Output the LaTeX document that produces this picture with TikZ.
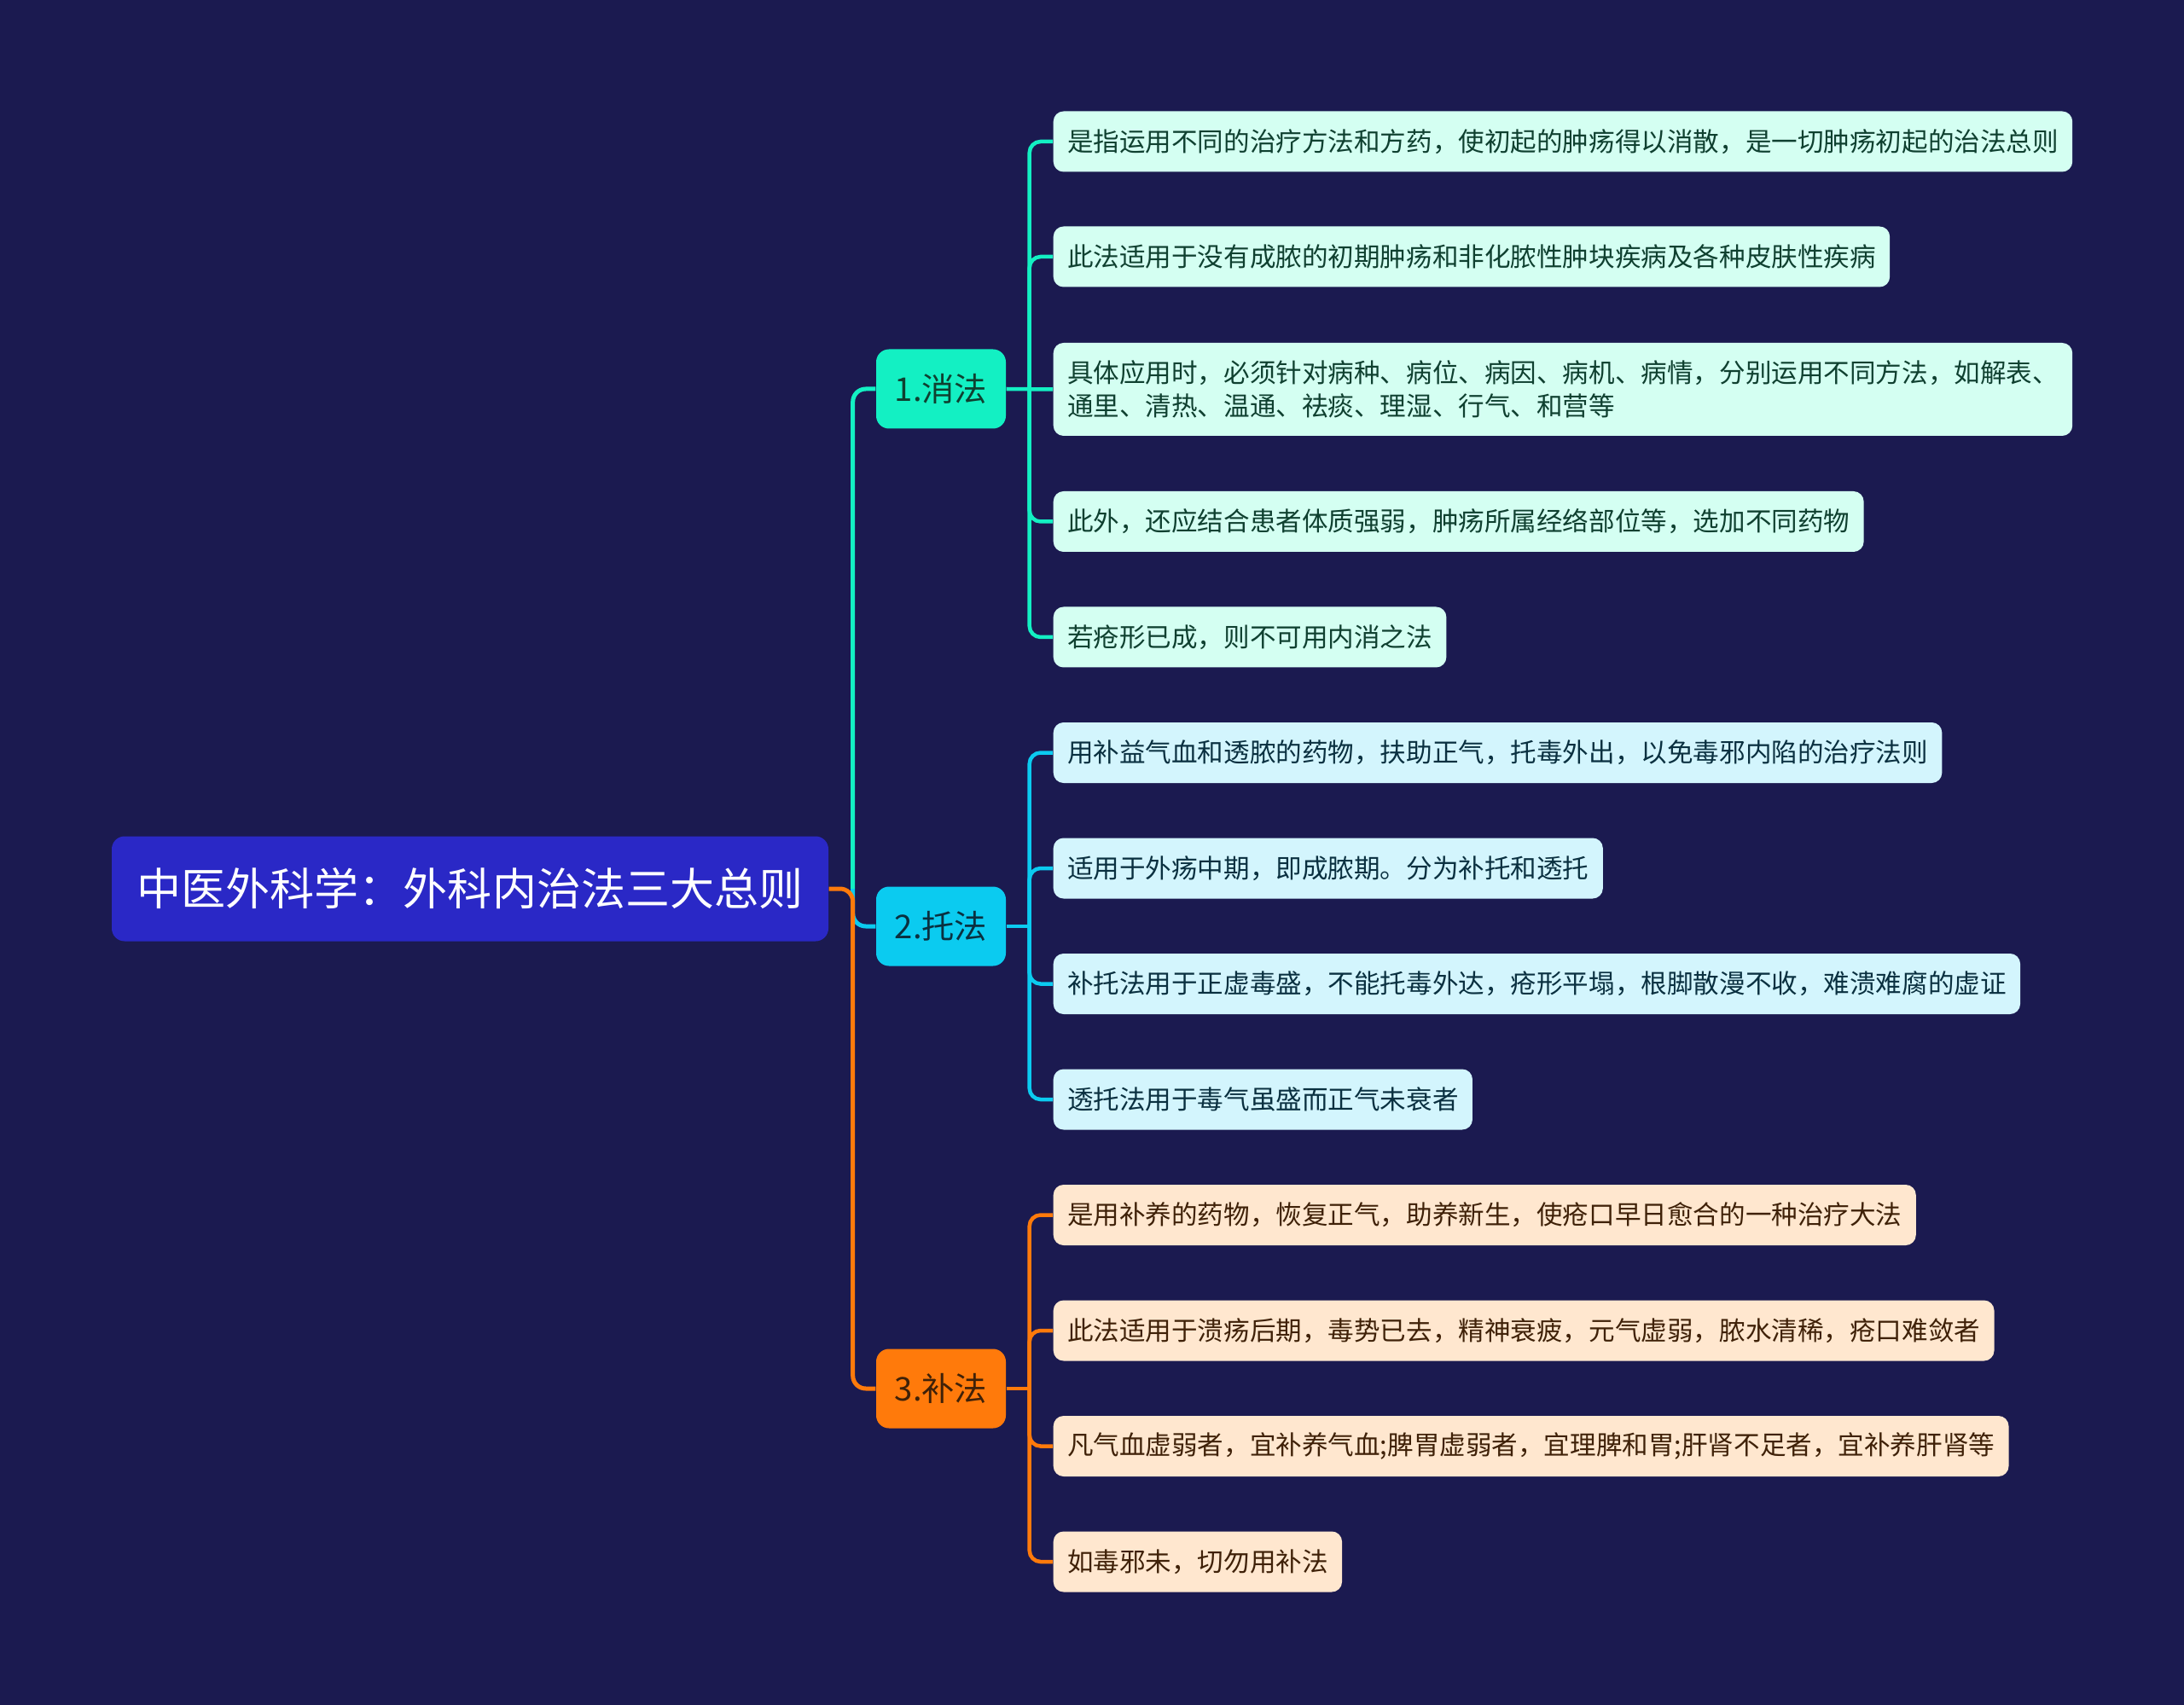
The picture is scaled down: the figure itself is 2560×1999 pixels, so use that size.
\documentclass[tikz,border=0pt]{standalone}
\usepackage{fontspec}
\setmainfont{Noto Sans CJK SC}
\usetikzlibrary{positioning,calc}
\definecolor{bgnavy}{HTML}{1B1A50}
\definecolor{rootfill}{HTML}{2A28C6}
\definecolor{xiaofill}{HTML}{13F0C3}
\definecolor{tuofill}{HTML}{0BCBF0}
\definecolor{bufill}{HTML}{FF7A0B}
\definecolor{xiaoleaf}{HTML}{D4FFF2}
\definecolor{tuoleaf}{HTML}{D3F5FD}
\definecolor{buleaf}{HTML}{FFE7CF}
\definecolor{xiaotext}{HTML}{0F4030}
\definecolor{tuotext}{HTML}{0A3040}
\definecolor{butext}{HTML}{3F2108}
\tikzset{
  rootbox/.style={fill=rootfill,text=white,rounded corners=1.5mm,minimum width=84mm,
                  minimum height=12.3mm,inner sep=0pt,font=\fontsize{14.8}{17}\selectfont},
  branch/.style={rounded corners=1.5mm,minimum width=15.2mm,minimum height=9.3mm,
                 inner sep=0pt,font=\fontsize{10.9}{13}\selectfont},
  leaf/.style={anchor=west,rounded corners=1.2mm,minimum height=7.1mm,inner xsep=1.63mm,
               inner ysep=0pt,align=left,font=\fontsize{8.7}{11.1}\selectfont},
  xiaoleafbox/.style={leaf,fill=xiaoleaf,text=xiaotext},
  tuoleafbox/.style={leaf,fill=tuoleaf,text=tuotext},
  buleafbox/.style={leaf,fill=buleaf,text=butext},
  link/.style={line width=0.45mm,rounded corners=1.3mm},
  trunk/.style={line width=0.5mm,rounded corners=1.5mm},
}
\begin{document}
\begin{tikzpicture}[x=0.1mm,y=-0.1mm]
  \fill[bgnavy] (0,0) rectangle (2560,1999);
  % ===== root and main branches =====
  \node[rootbox] (root) at (551,1042){中医外科学：外科内治法三大总则};
  \node[branch,fill=xiaofill,text=xiaotext] (xiao) at (1103,456){1.消法};
  \node[branch,fill=tuofill,text=tuotext] (tuo) at (1103,1086){2.托法};
  \node[branch,fill=bufill,text=butext] (bu) at (1103,1628){3.补法};
  \coordinate (hub) at ($(root.east)+(28,0)$);
  \draw[trunk,xiaofill] (hub) |- (xiao.west);
  \draw[trunk,tuofill] (hub) |- (tuo.west);
  \draw[trunk,bufill] (root.east) -- (hub) |- (bu.west);

  % ===== 消法 leaves =====
  \node[xiaoleafbox] (xiao1) at (1234,166){是指运用不同的治疗方法和方药，使初起的肿疡得以消散，是一切肿疡初起的治法总则};
  \node[xiaoleafbox] (xiao2) at (1234,301){此法适用于没有成脓的初期肿疡和非化脓性肿块疾病及各种皮肤性疾病};
  \node[xiaoleafbox,minimum height=10.9mm] (xiao3) at (1234,456.5){具体应用时，必须针对病种、病位、病因、病机、病情，分别运用不同方法，如解表、\\通里、清热、温通、祛痰、理湿、行气、和营等};
  \node[xiaoleafbox] (xiao4) at (1234,611.5){此外，还应结合患者体质强弱，肿疡所属经络部位等，选加不同药物};
  \node[xiaoleafbox] (xiao5) at (1234,747){若疮形已成，则不可用内消之法};
  \coordinate (xiaospine) at ($(xiao.east)+(27,0)$);
  \draw[link,xiaofill] (xiao.east) -- (xiao3.west);
  \foreach \k in {1,2,4,5}
    \draw[link,xiaofill] (xiaospine) |- (xiao\k.west);

  % ===== 托法 leaves =====
  \node[tuoleafbox] (tuo1) at (1234,882.5){用补益气血和透脓的药物，扶助正气，托毒外出，以免毒邪内陷的治疗法则};
  \node[tuoleafbox] (tuo2) at (1234,1018){适用于外疡中期，即成脓期。分为补托和透托};
  \node[tuoleafbox] (tuo3) at (1234,1153.5){补托法用于正虚毒盛，不能托毒外达，疮形平塌，根脚散漫不收，难溃难腐的虚证};
  \node[tuoleafbox] (tuo4) at (1234,1289){透托法用于毒气虽盛而正气未衰者};
  \coordinate (tuospine) at ($(tuo.east)+(27,0)$);
  \draw[link,tuofill] (tuo.east) -- (tuospine);
  \foreach \k in {1,...,4}
    \draw[link,tuofill] (tuospine) |- (tuo\k.west);

  % ===== 补法 leaves =====
  \node[buleafbox] (bu1) at (1234,1424.5){是用补养的药物，恢复正气，助养新生，使疮口早日愈合的一种治疗大法};
  \node[buleafbox] (bu2) at (1234,1560){此法适用于溃疡后期，毒势已去，精神衰疲，元气虚弱，脓水清稀，疮口难敛者};
  \node[buleafbox] (bu3) at (1234,1695.5){凡气血虚弱者，宜补养气血;脾胃虚弱者，宜理脾和胃;肝肾不足者，宜补养肝肾等};
  \node[buleafbox] (bu4) at (1234,1831){如毒邪未，切勿用补法};
  \coordinate (buspine) at ($(bu.east)+(27,0)$);
  \draw[link,bufill] (bu.east) -- (buspine);
  \foreach \k in {1,...,4}
    \draw[link,bufill] (buspine) |- (bu\k.west);
\end{tikzpicture}
\end{document}
